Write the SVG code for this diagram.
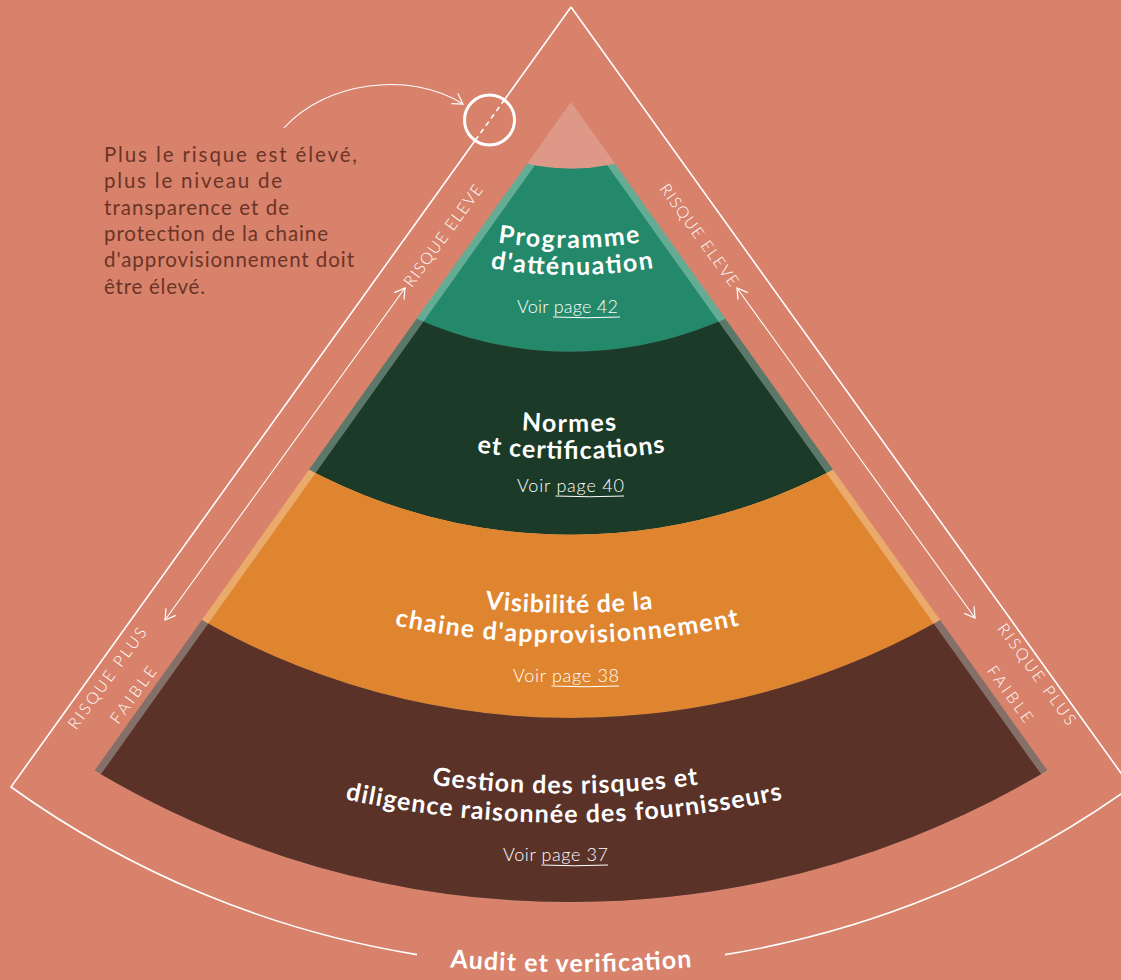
<svg xmlns="http://www.w3.org/2000/svg" width="1121" height="980" viewBox="0 0 1121 980">
<defs>
<style>
.title{font-family:Lato,"Liberation Sans",sans-serif;font-weight:700;font-size:25px;fill:#fff}
.voir{font-family:Lato,"Liberation Sans",sans-serif;font-weight:300;font-size:18px;fill:#fff}
.side{font-family:Lato,"Liberation Sans",sans-serif;font-weight:300;font-size:16px;fill:#fff}
.para{font-family:Lato,"Liberation Sans",sans-serif;font-weight:400;font-size:20.5px;fill:#6B3427}
.frame{fill:none;stroke:#fff;stroke-width:1.6}
.thin{fill:none;stroke:#fff;stroke-width:1.1}
.ul{fill:none;stroke:#fff;stroke-width:1}
.band{fill:none}
</style>
<clipPath id="outerTri"><polygon points="571,102 1211,1000 -69,1000"/></clipPath>
<clipPath id="innerTri"><polygon points="571,114.6 1202,1000 -60,1000"/></clipPath>
<marker id="chev" viewBox="0 0 12 14" refX="11" refY="7" markerWidth="12" markerHeight="14" markerUnits="userSpaceOnUse" orient="auto-start-reverse">
<path d="M1,1 L11,7 L1,13" fill="none" stroke="#fff" stroke-width="1.2"/>
</marker>
<path id="p1" d="M449,232.07 A460,460 0 0 0 689,232.07"/>
<path id="p2" d="M452,259.98 A487,487 0 0 0 692,259.98"/>
<path id="p3" d="M419,414.29 A644,644 0 0 0 719,414.29"/>
<path id="p4" d="M421,442.02 A671,671 0 0 0 721,442.02"/>
<path id="p5" d="M369,588.39 A825,825 0 0 0 769,588.39"/>
<path id="p6" d="M367,619.28 A855,855 0 0 0 767,619.28"/>
<path id="p7" d="M315,761.94 A1005.5,1005.5 0 0 0 815,761.94"/>
<path id="p8" d="M304,789.5 A1034.7,1034.7 0 0 0 824,789.5"/>
<path id="p9" d="M371,958.6 A1500,1500 0 0 0 771,958.6"/>
</defs>
<rect width="1121" height="980" fill="#D8826B"/>

<g id="frame">
<path class="frame" d="M571,7 L504.5,99.7"/>
<path class="frame" stroke-dasharray="5 4" d="M504.5,99.7 L475.3,140.3"/>
<path class="frame" d="M475.3,140.3 L11,787 A960,960 0 0 0 417,954.6"/>
<path class="frame" d="M725,954.6 A960,960 0 0 0 1131,787 L571,7"/>
<circle cx="489.5" cy="120" r="25" fill="none" stroke="#fff" stroke-width="3"/>
<text class="title" text-anchor="middle"><textPath href="#p9" startOffset="50%" textLength="242" lengthAdjust="spacing">Audit et verification</textPath></text>
</g>

<g id="cap">
<circle cx="571" cy="-25" r="194" fill="#DD9888" clip-path="url(#outerTri)"/>
</g>

<g id="band-attenuation">
<circle class="band" cx="571" cy="-25" r="285.5" stroke="#64AC94" stroke-width="183.5" clip-path="url(#outerTri)"/>
<circle class="band" cx="571" cy="-25" r="285.5" stroke="#23896A" stroke-width="183.5" clip-path="url(#innerTri)"/>
<text class="title" text-anchor="middle"><textPath href="#p1" startOffset="50%" textLength="143" lengthAdjust="spacing">Programme</textPath></text>
<text class="title" text-anchor="middle"><textPath href="#p2" startOffset="50%" textLength="164" lengthAdjust="spacing">d'atténuation</textPath></text>
<text class="voir" x="517" y="313" textLength="101" lengthAdjust="spacing">Voir page 42</text>
<path class="ul" d="M553,317 Q586.5,318.5 620,317"/>
</g>

<g id="band-normes">
<circle class="band" cx="571" cy="-25" r="468.5" stroke="#5C786A" stroke-width="183.5" clip-path="url(#outerTri)"/>
<circle class="band" cx="571" cy="-25" r="468.5" stroke="#1B3B28" stroke-width="183.5" clip-path="url(#innerTri)"/>
<text class="title" text-anchor="middle"><textPath href="#p3" startOffset="50%" textLength="95" lengthAdjust="spacing">Normes</textPath></text>
<text class="title" text-anchor="middle"><textPath href="#p4" startOffset="50%" textLength="189" lengthAdjust="spacing">et certifications</textPath></text>
<text class="voir" x="517" y="492" textLength="107" lengthAdjust="spacing">Voir page 40</text>
<path class="ul" d="M555.5,496 Q589.5,497.5 624,496"/>
</g>

<g id="band-visibilite">
<circle class="band" cx="571" cy="-25" r="651.5" stroke="#EAAA6C" stroke-width="183.5" clip-path="url(#outerTri)"/>
<circle class="band" cx="571" cy="-25" r="651.5" stroke="#E0852F" stroke-width="183.5" clip-path="url(#innerTri)"/>
<text class="title" text-anchor="middle"><textPath href="#p5" startOffset="50%" textLength="168" lengthAdjust="spacing">Visibilité de la</textPath></text>
<text class="title" text-anchor="middle"><textPath href="#p6" startOffset="50%" textLength="347" lengthAdjust="spacing">chaine d'approvisionnement</textPath></text>
<text class="voir" x="513" y="682" textLength="106" lengthAdjust="spacing">Voir page 38</text>
<path class="ul" d="M551.5,686 Q585,687.5 619,686"/>
</g>

<g id="band-gestion">
<circle class="band" cx="571" cy="-25" r="835" stroke="#857069" stroke-width="184" clip-path="url(#outerTri)"/>
<circle class="band" cx="571" cy="-25" r="835" stroke="#5A3228" stroke-width="184" clip-path="url(#innerTri)"/>
<text class="title" text-anchor="middle"><textPath href="#p7" startOffset="50%" textLength="267" lengthAdjust="spacing">Gestion des risques et</textPath></text>
<text class="title" text-anchor="middle"><textPath href="#p8" startOffset="50%" textLength="441" lengthAdjust="spacing">diligence raisonnée des fournisseurs</textPath></text>
<text class="voir" x="503" y="861" textLength="105" lengthAdjust="spacing">Voir page 37</text>
<path class="ul" d="M541.5,865 Q574.5,866.5 608,865"/>
</g>

<g id="note">
<text class="para" x="104" y="162" textLength="253" lengthAdjust="spacing">Plus le risque est élevé,</text>
<text class="para" x="104" y="188.3" textLength="178" lengthAdjust="spacing">plus le niveau de</text>
<text class="para" x="104" y="214.6" textLength="185" lengthAdjust="spacing">transparence et de</text>
<text class="para" x="104" y="240.9" textLength="224" lengthAdjust="spacing">protection de la chaine</text>
<text class="para" x="104" y="267.2" textLength="250" lengthAdjust="spacing">d'approvisionnement doit</text>
<text class="para" x="104" y="293.5" textLength="101" lengthAdjust="spacing">être élevé.</text>
</g>

<g id="side-labels">
<text class="side" text-anchor="middle" transform="translate(447.7,239) rotate(-54)" textLength="122" lengthAdjust="spacing">RISQUE ELEVE</text>
<text class="side" text-anchor="middle" transform="translate(694.8,238.2) rotate(54)" textLength="122" lengthAdjust="spacing">RISQUE ELEVE</text>
<text class="side" text-anchor="middle" transform="translate(111.6,681.5) rotate(-54)" textLength="121" lengthAdjust="spacing">RISQUE PLUS</text>
<text class="side" text-anchor="middle" transform="translate(137.7,698.2) rotate(-54)" textLength="66" lengthAdjust="spacing">FAIBLE</text>
<text class="side" text-anchor="middle" transform="translate(1032.3,677.4) rotate(54)" textLength="121" lengthAdjust="spacing">RISQUE PLUS</text>
<text class="side" text-anchor="middle" transform="translate(1005.6,697.4) rotate(54)" textLength="66" lengthAdjust="spacing">FAIBLE</text>
</g>

<g id="connectors">
<path class="thin" d="M405,288 L165,620" marker-start="url(#chev)" marker-end="url(#chev)"/>
<path class="thin" d="M737,288 L975,618" marker-start="url(#chev)" marker-end="url(#chev)"/>
<path class="thin" d="M284,128 C325,82 410,70 463,104" marker-end="url(#chev)"/>
</g>
</svg>
